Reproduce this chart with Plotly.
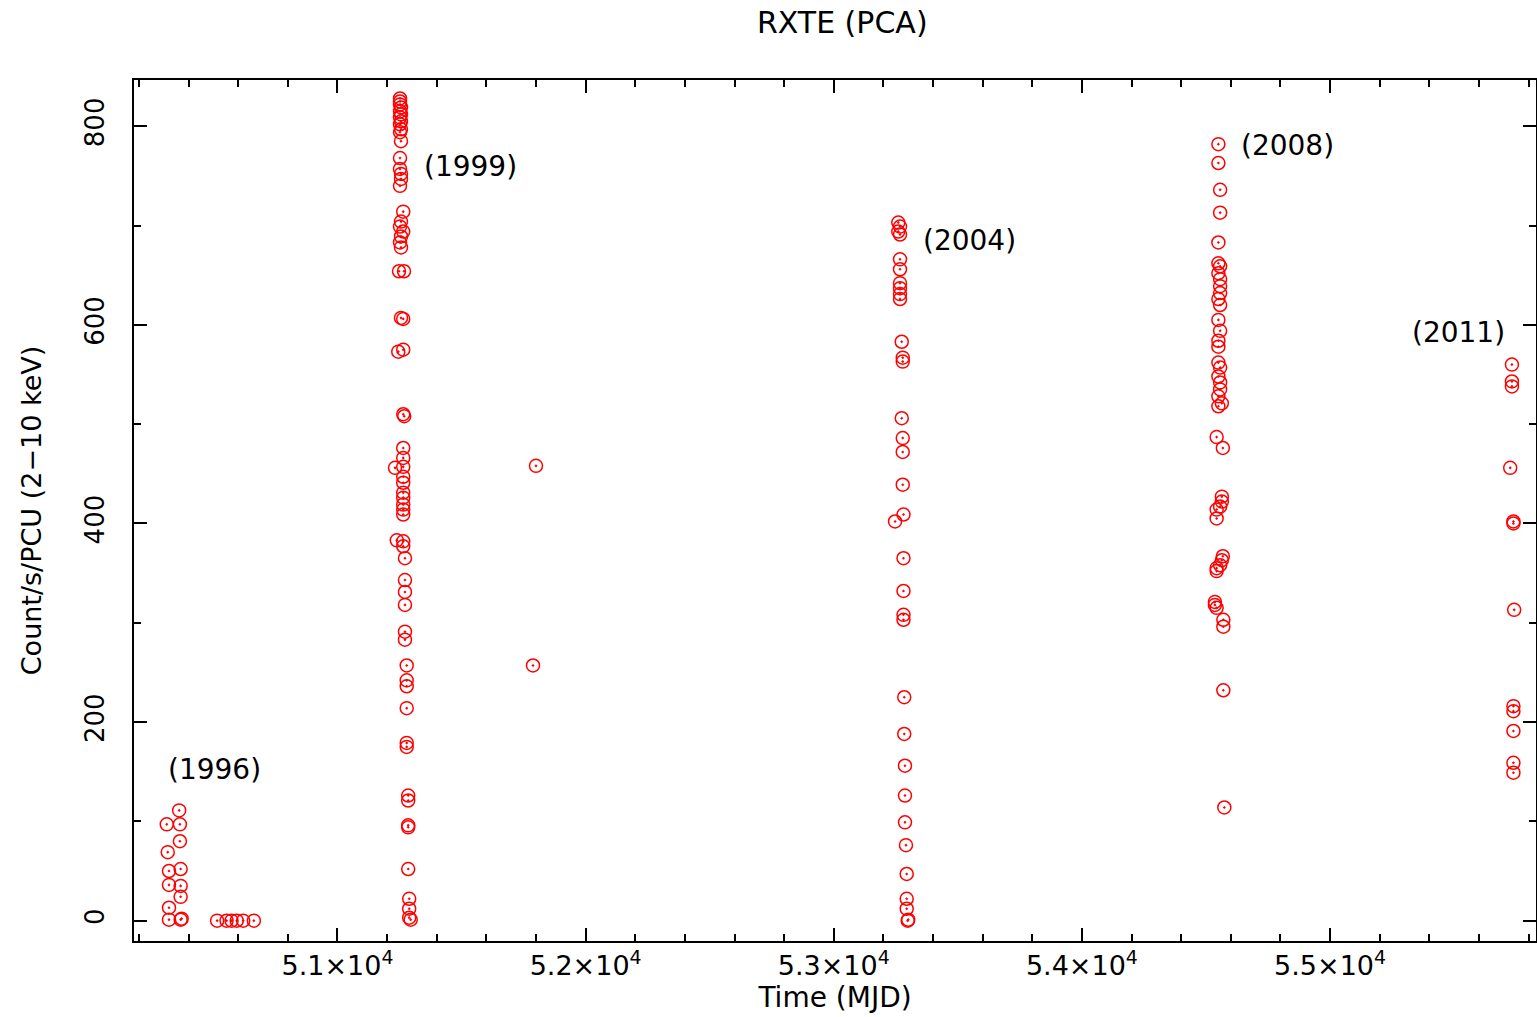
import plotly.graph_objects as go

# RXTE/PCA light curve: count rate per PCU (2-10 keV) vs MJD, one list per outburst
mjd_1996 = [50362, 50312, 50365, 50365, 50316, 50321, 50368, 50321, 50368, 50368, 50321, 50321, 50368, 50372,
            50515, 50553, 50573, 50594, 50620, 50663]
rate_1996 = [111, 97, 97, 80, 69, 50, 52, 36, 35, 24, 13, 1, 1, 2,
             0, 0, 0, 0, 0, 0]

mjd_1999 = [51252, 51252, 51252, 51256, 51252, 51256, 51252, 51256, 51252, 51256, 51252, 51256, 51252,
            51252, 51256, 51256, 51252, 51265, 51256, 51252, 51265, 51256, 51252, 51256,
            51248, 51268, 51256, 51265, 51245, 51265, 51265, 51269,
            51265, 51265, 51232, 51265, 51265, 51265, 51265, 51265, 51265, 51265, 51265, 51239, 51265, 51265,
            51272, 51272, 51272, 51272, 51272, 51272, 51279, 51279, 51279, 51279, 51279, 51279,
            51285, 51285, 51285, 51285, 51285, 51289, 51289, 51295, 51289]
rate_1999 = [828, 825, 822, 819, 815, 812, 809, 805, 802, 797, 794, 785, 768,
             757, 752, 747, 740, 714, 704, 699, 694, 689, 683, 678,
             654, 654, 607, 606, 573, 575, 510, 508,
             476, 466, 456, 457, 447, 441, 431, 426, 419, 414, 409, 383, 382, 377,
             365, 343, 331, 318, 291, 283, 257, 242, 236, 214, 179, 175,
             126, 121, 96, 94, 52, 22, 12, 1, 3]

mjd_1999b = [51800, 51788]
rate_1999b = [458, 257]

mjd_2004 = [53260, 53267, 53260, 53267, 53267, 53267, 53267, 53267, 53267, 53267,
            53274, 53278, 53278, 53274, 53278, 53278, 53278, 53281, 53247, 53281,
            53281, 53281, 53281, 53284, 53284, 53287, 53287, 53287, 53291, 53294, 53294, 53294, 53298, 53300]
rate_2004 = [703, 699, 694, 691, 666, 656, 642, 637, 631, 626,
             583, 567, 563, 506, 486, 472, 439, 409, 402, 365,
             332, 308, 303, 225, 188, 156, 126, 99, 76, 47, 22, 12, 0, 1]

mjd_2008 = [54550, 54550, 54557, 54557, 54550, 54550, 54557, 54550, 54557, 54557, 54557, 54550, 54557,
            54550, 54557, 54550, 54550, 54550, 54557, 54550, 54557, 54557, 54550, 54564, 54550,
            54543, 54568, 54564, 54564, 54557, 54543, 54543, 54568, 54564, 54557, 54543, 54543,
            54536, 54536, 54543, 54570, 54570, 54570, 54574]
rate_2008 = [782, 763, 736, 713, 683, 662, 659, 652, 646, 639, 632, 626, 620,
             605, 594, 584, 578, 562, 557, 548, 542, 535, 528, 521, 518,
             487, 476, 427, 422, 417, 414, 405, 367, 363, 358, 355, 352,
             321, 318, 315, 303, 296, 232, 114]

mjd_2011 = [55733, 55733, 55733, 55726, 55739, 55739, 55742, 55739, 55739, 55739, 55739, 55739]
rate_2011 = [560, 543, 538, 456, 402, 400, 313, 216, 211, 191, 159, 149]

year_labels = ["(1996)", "(1999)", "(2004)", "(2008)", "(2011)"]
label_mjd = [50506, 51538, 53549, 54827, 55516]
label_rate = [152, 759, 685, 781, 592]

x_tickvals = [51000, 52000, 53000, 54000, 55000]
x_ticktext = ["5.1×10<sup>4</sup>", "5.2×10<sup>4</sup>", "5.3×10<sup>4</sup>",
              "5.4×10<sup>4</sup>", "5.5×10<sup>4</sup>"]
y_tickvals = [0, 200, 400, 600, 800]

FONT = "DejaVu Sans, Liberation Sans, Arial, sans-serif"

all_mjd = mjd_1996 + mjd_1999 + mjd_1999b + mjd_2004 + mjd_2008 + mjd_2011
all_rate = rate_1996 + rate_1999 + rate_1999b + rate_2004 + rate_2008 + rate_2011

fig = go.Figure()
fig.add_trace(go.Scatter(
    x=all_mjd, y=all_rate, mode="markers",
    marker=dict(symbol="circle-open-dot", size=13, color="#ff0000",
                line=dict(color="#ff0000", width=1.5)),
    showlegend=False, hoverinfo="x+y",
))

for txt, xm, yr in zip(year_labels, label_mjd, label_rate):
    fig.add_annotation(x=xm, y=yr, text=txt, showarrow=False,
                       font=dict(family=FONT, size=28, color="black"))

axis_common = dict(
    showline=True, linecolor="black", linewidth=1.5, mirror="ticks",
    ticks="inside", tickcolor="black", tickwidth=1.5,
    showgrid=False, zeroline=False,
)

fig.update_xaxes(
    range=[50180, 55830], tickmode="array", tickvals=x_tickvals, ticktext=x_ticktext,
    ticklen=13, tickfont=dict(family=FONT, size=27, color="black"),
    minor=dict(dtick=200, tick0=50000, ticks="inside", ticklen=7, tickcolor="black", tickwidth=1.5),
    title=dict(text="Time (MJD)", font=dict(family=FONT, size=28, color="black"), standoff=4),
    **axis_common,
)
fig.update_yaxes(
    range=[-20.5, 846.6], tickmode="array", tickvals=y_tickvals, tickangle=-90,
    ticklen=13, ticklabelstandoff=18, tickfont=dict(family=FONT, size=26, color="black"),
    minor=dict(dtick=100, tick0=0, ticks="inside", ticklen=7, tickcolor="black", tickwidth=1.5),
    title=dict(text="Count/s/PCU (2−10 keV)", font=dict(family=FONT, size=27, color="black"), standoff=30),
    **axis_common,
)

fig.update_layout(
    width=1537, height=1017,
    margin=dict(l=134, r=1, t=80, b=76, autoexpand=False),
    paper_bgcolor="white", plot_bgcolor="white",
    title=dict(text="RXTE (PCA)", x=0.548, xanchor="center", y=0.978, yanchor="middle",
               font=dict(family=FONT, size=30, color="black")),
)

fig.write_html("out.html")
